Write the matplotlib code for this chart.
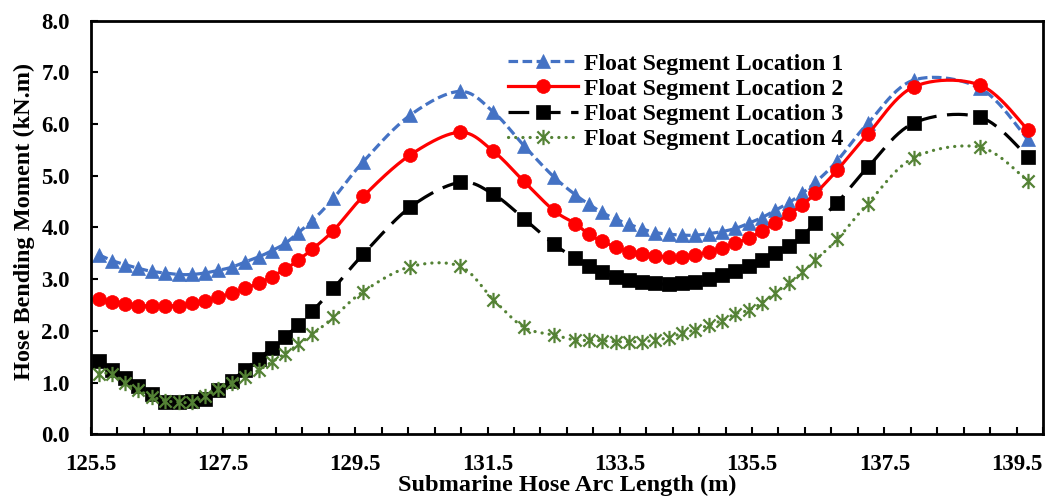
import numpy as np
import matplotlib
matplotlib.use("Agg")
import matplotlib.pyplot as plt
from matplotlib.path import Path
from matplotlib.lines import Line2D
from matplotlib.ticker import FixedLocator, NullFormatter

# Arc length along the submarine hose (m)
arc_length = [
    125.62, 125.82, 126.02, 126.22, 126.42, 126.62, 126.83, 127.03, 127.23,
    127.43, 127.63, 127.83, 128.04, 128.24, 128.44, 128.64, 128.85,
    129.17, 129.62, 130.33, 131.08, 131.59, 132.05, 132.50,
    132.83, 133.03, 133.23, 133.44, 133.64, 133.84, 134.04, 134.24, 134.44,
    134.64, 134.85, 135.05, 135.25, 135.45, 135.65, 135.85, 136.06, 136.26,
    136.46,
    136.79, 137.25, 137.95, 138.95, 139.67,
]

# Hose bending moment (kN.m) for each float segment location
location_1 = [
    3.47, 3.36, 3.28, 3.21, 3.15, 3.12, 3.09, 3.09, 3.12,
    3.17, 3.23, 3.33, 3.43, 3.55, 3.69, 3.90, 4.13,
    4.56, 5.27, 6.17, 6.63, 6.23, 5.58, 4.98,
    4.63, 4.45, 4.29, 4.16, 4.06, 3.97, 3.90, 3.87, 3.85,
    3.85, 3.88, 3.92, 3.98, 4.08, 4.19, 4.33, 4.48, 4.66,
    4.87,
    5.29, 6.01, 6.85, 6.69, 5.70,
]
location_2 = [
    2.61, 2.56, 2.52, 2.49, 2.48, 2.48, 2.49, 2.53, 2.58,
    2.65, 2.73, 2.82, 2.92, 3.05, 3.19, 3.37, 3.58,
    3.94, 4.60, 5.40, 5.84, 5.47, 4.89, 4.33,
    4.07, 3.87, 3.73, 3.62, 3.53, 3.48, 3.45, 3.43, 3.43,
    3.46, 3.53, 3.61, 3.70, 3.79, 3.93, 4.08, 4.26, 4.44,
    4.66,
    5.11, 5.80, 6.72, 6.75, 5.89,
]
location_3 = [
    1.42, 1.24, 1.08, 0.93, 0.78, 0.63, 0.62, 0.64, 0.68,
    0.86, 1.03, 1.25, 1.46, 1.67, 1.89, 2.11, 2.38,
    2.82, 3.48, 4.39, 4.87, 4.64, 4.17, 3.68,
    3.40, 3.25, 3.13, 3.05, 2.98, 2.94, 2.92, 2.90, 2.92,
    2.95, 3.00, 3.08, 3.16, 3.26, 3.37, 3.50, 3.65, 3.83,
    4.09,
    4.48, 5.16, 6.02, 6.13, 5.37,
]
location_4 = [
    1.17, 1.17, 0.99, 0.85, 0.73, 0.65, 0.62, 0.62, 0.74,
    0.87, 1.00, 1.11, 1.24, 1.40, 1.56, 1.74, 1.93,
    2.26, 2.76, 3.24, 3.25, 2.60, 2.07, 1.92,
    1.82, 1.82, 1.81, 1.79, 1.79, 1.79, 1.82, 1.87, 1.95,
    2.02, 2.11, 2.20, 2.33, 2.40, 2.54, 2.74, 2.92, 3.13,
    3.37,
    3.77, 4.46, 5.35, 5.55, 4.90,
]

series_labels = [
    "Float Segment Location 1",
    "Float Segment Location 2",
    "Float Segment Location 3",
    "Float Segment Location 4",
]
xtick_values = [125.5, 127.5, 129.5, 131.5, 133.5, 135.5, 137.5, 139.5]
xtick_labels = ["125.5", "127.5", "129.5", "131.5", "133.5", "135.5", "137.5", "139.5"]
ytick_values = [0, 1, 2, 3, 4, 5, 6, 7, 8]


def smooth_curve(x, y, steps=24):
    """Smoothed line through the points (Catmull-Rom as cubic Bezier)."""
    pts = np.column_stack([x, y]).astype(float)
    ext = np.vstack([pts[0], pts, pts[-1]])
    t = np.linspace(0.0, 1.0, steps, endpoint=False)[:, None]
    segs = []
    for i in range(len(pts) - 1):
        p0, p1, p2, p3 = ext[i], ext[i + 1], ext[i + 2], ext[i + 3]
        c1 = p1 + (p2 - p0) / 6.0
        c2 = p2 - (p3 - p1) / 6.0
        segs.append((1 - t) ** 3 * p1 + 3 * (1 - t) ** 2 * t * c1
                    + 3 * (1 - t) * t ** 2 * c2 + t ** 3 * p2)
    segs.append(pts[-1][None, :])
    out = np.vstack(segs)
    return out[:, 0], out[:, 1]


# Asterisk-style marker: an X with a vertical bar
star_marker = Path(
    [(-1, -1), (1, 1), (-1, 1), (1, -1), (0, -1.25), (0, 1.25)],
    [Path.MOVETO, Path.LINETO, Path.MOVETO, Path.LINETO, Path.MOVETO, Path.LINETO],
)

plt.rcParams["font.family"] = ["Liberation Serif", "DejaVu Serif"]
plt.rcParams["font.weight"] = "bold"

fig = plt.figure(figsize=(10.48, 4.98), dpi=100)
ax = fig.add_axes([0.0866, 0.1279, 0.9086, 0.8309])

styles = [
    dict(color="#4472C4", dashes=(3.0, 1.4), capstyle="butt",
         marker="^", ms=10, mfc="#4472C4", mec="#4472C4", mew=0.5),
    dict(color="#FF0000", dashes=None, capstyle="butt",
         marker="o", ms=10, mfc="#FF0000", mec="#FF0000", mew=0.5),
    dict(color="#000000", dashes=(6.5, 3.3), capstyle="butt",
         marker="s", ms=9.5, mfc="#000000", mec="#000000", mew=0.5),
    dict(color="#548235", dashes=(0.05, 2.2), capstyle="round",
         marker=star_marker, ms=11, mfc="none", mec="#548235", mew=1.6),
]
series = [location_1, location_2, location_3, location_4]
lw = 2.3

handles = []
for values, st, label in zip(series, styles, series_labels):
    sx, sy = smooth_curve(arc_length, values)
    line, = ax.plot(sx, sy, color=st["color"], lw=lw,
                    solid_capstyle=st["capstyle"], dash_capstyle=st["capstyle"])
    if st["dashes"] is not None:
        line.set_dashes(st["dashes"])
    ax.plot(arc_length, values, ls="none", marker=st["marker"], ms=st["ms"],
            mfc=st["mfc"], mec=st["mec"], mew=st["mew"])
    h = Line2D([], [], color=st["color"], lw=lw, marker=st["marker"], ms=st["ms"],
               mfc=st["mfc"], mec=st["mec"], mew=st["mew"],
               dash_capstyle=st["capstyle"])
    if st["dashes"] is not None:
        h.set_dashes(st["dashes"])
    handles.append(h)

ax.set_xlim(125.5, 139.9)
ax.set_ylim(0, 8)
ax.xaxis.set_major_locator(FixedLocator(xtick_values))
ax.set_xticklabels(xtick_labels)
ax.xaxis.set_minor_locator(FixedLocator(np.arange(125.5, 139.95, 0.4)))
ax.xaxis.set_minor_formatter(NullFormatter())
ax.set_yticks(ytick_values)
ax.set_yticklabels([f"{v:.1f}" for v in ytick_values])

ax.tick_params(axis="both", which="both", direction="in", length=5, width=1.5,
               top=False, right=False, labelsize=16.5)
ax.tick_params(axis="x", which="major", pad=14.5)
ax.tick_params(axis="y", which="major", pad=15)
for sp in ax.spines.values():
    sp.set_linewidth(2.0)

ax.set_xlabel("Submarine Hose Arc Length (m)", fontsize=17.5, fontweight="bold")
ax.xaxis.set_label_coords(0.5, -0.1369)
ax.xaxis.label.set_verticalalignment("baseline")
ax.set_ylabel("Hose Bending Moment (kN.m)", fontsize=17.5, fontweight="bold")
ax.yaxis.set_label_coords(-0.059, 0.515)

leg = ax.legend(handles, series_labels, loc="upper left",
                bbox_to_anchor=(508 / 1048, 1 - 53 / 498),
                bbox_transform=fig.transFigure, frameon=False,
                prop={"family": "Liberation Serif", "weight": "bold", "size": 17.1},
                handlelength=2.95, handletextpad=0.27, labelspacing=0.15,
                borderpad=0, borderaxespad=0)

fig.savefig("out.png", dpi=100)
